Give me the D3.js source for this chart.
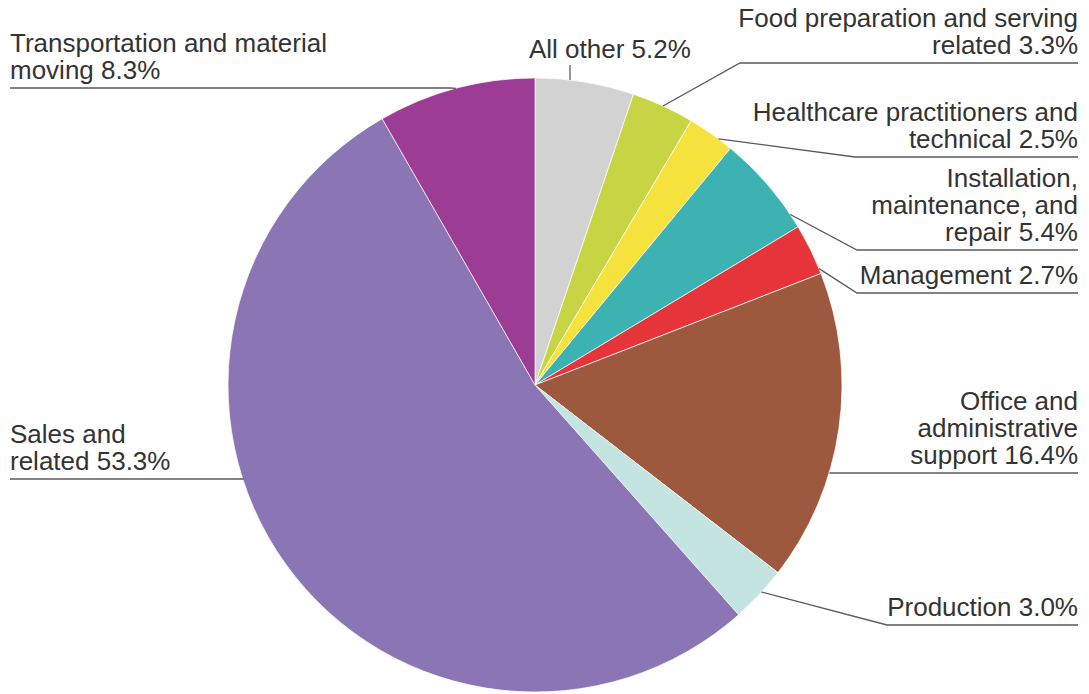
<!DOCTYPE html>
<html>
<head>
<meta charset="utf-8">
<script src="https://cdn.jsdelivr.net/npm/d3@7"></script>
<style>
  body { margin: 0; background: #fff; }
  svg { display: block; }
</style>
</head>
<body>
<svg id="chart" width="1089" height="694"></svg>
<script>
// data, clockwise from 12 o'clock
const categories = [
  'All other',
  'Food preparation and serving related',
  'Healthcare practitioners and technical',
  'Installation, maintenance, and repair',
  'Management',
  'Office and administrative support',
  'Production',
  'Sales and related',
  'Transportation and material moving',
];
const shares = [5.2, 3.3, 2.5, 5.4, 2.7, 16.4, 3.0, 53.3, 8.3];
const colors = ['#d2d2d2', '#c7d544', '#f5e23c', '#3cb2b3', '#e5353b',
  '#9d593e', '#c4e4e2', '#8c75b4', '#9c3c95'];
const labelLines = [
  ['All other 5.2%'],
  ['Food preparation and serving', 'related 3.3%'],
  ['Healthcare practitioners and', 'technical 2.5%'],
  ['Installation,', 'maintenance, and', 'repair 5.4%'],
  ['Management 2.7%'],
  ['Office and', 'administrative', 'support 16.4%'],
  ['Production 3.0%'],
  ['Sales and', 'related 53.3%'],
  ['Transportation and material', 'moving 8.3%'],
];

// label layout: where the leader touches the slice (fraction of slice),
// underline y, bend x and text side
const layout = [
  {f: 0.35, y: 65, bend: null, side: 'top', x: 529},
  {f: 0.5, y: 63, bend: 740, side: 'right'},
  {f: 0.68, y: 157, bend: 855, side: 'right'},
  {f: 0.86, y: 250, bend: 857, side: 'right'},
  {f: 0.9, y: 293, bend: 857, side: 'right'},
  {f: 0.64, y: 473, bend: null, side: 'right'},
  {f: 0.44, y: 625, bend: 887, side: 'right'},
  {f: 0.59, y: 479, bend: null, side: 'left'},
  {f: 0.5, y: 88, bend: 450, side: 'left'},
];

const cx = 535;
const cy = 385;
const radius = 307;
const lineH = 27;
const rightX = 1078;
const leftX = 10;

const svg = d3.select('#chart');

const pie = d3.pie().sort(null).value((d) => d);
const arcs = pie(shares);
const arc = d3.arc().innerRadius(0).outerRadius(radius);

const g = svg.append('g').attr('transform', `translate(${cx},${cy})`);

g.selectAll('path')
    .data(arcs)
    .join('path')
    .attr('d', arc)
    .attr('fill', (d, i) => colors[i])
    .attr('stroke', '#fff')
    .attr('stroke-width', 0.7)
    .append('title')
    .text((d, i) => `${categories[i]} ${shares[i]}%`);

// point on the rim
function rim(a) {
  return [cx + radius * Math.sin(a), cy - radius * Math.cos(a)];
}

const lines = svg.append('g')
    .attr('fill', 'none')
    .attr('stroke', '#5a5a5a')
    .attr('stroke-width', 1.3);

const texts = svg.append('g')
    .attr('font-family', 'Liberation Sans, Arial, sans-serif')
    .attr('font-size', 26)
    .attr('fill', '#333');

arcs.forEach((d, i) => {
  const lay = layout[i];
  const a = d.startAngle + (d.endAngle - d.startAngle) * lay.f;
  const p = rim(a);
  let pts;
  if (lay.side === 'top') {
    pts = [p, [p[0], lay.y]];
  } else if (lay.side === 'right') {
    pts = lay.bend === null ?
      [[p[0], lay.y], [rightX, lay.y]] :
      [p, [lay.bend, lay.y], [rightX, lay.y]];
  } else {
    pts = lay.bend === null ?
      [[p[0], lay.y], [leftX, lay.y]] :
      [p, [lay.bend, lay.y], [leftX, lay.y]];
  }
  lines.append('path').attr('d', d3.line()(pts));

  const rows = labelLines[i];
  const t = texts.append('text')
      .attr('text-anchor', lay.side === 'right' ? 'end' : 'start');
  const tx = lay.side === 'right' ? rightX :
    (lay.side === 'top' ? lay.x : leftX);
  const lastBase = lay.side === 'top' ? lay.y - 7 : lay.y - 9;
  rows.forEach((r, k) => {
    t.append('tspan')
        .attr('x', tx)
        .attr('y', lastBase - (rows.length - 1 - k) * lineH)
        .text(r);
  });
});
</script>
</body>
</html>
